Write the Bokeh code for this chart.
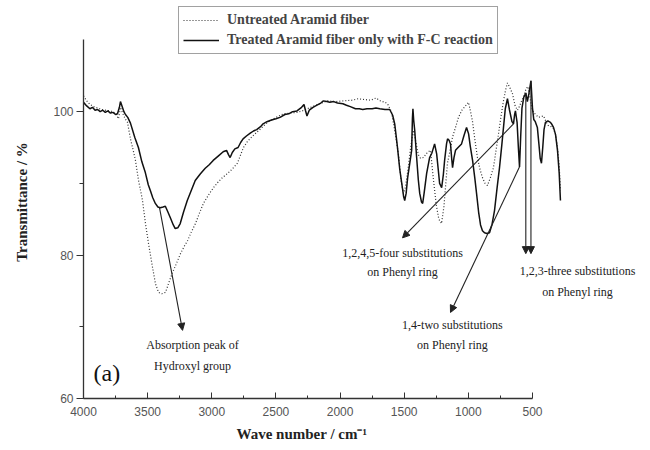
import numpy as np
from bokeh.plotting import figure
from bokeh.models import (Range1d, FixedTicker, Label, Arrow, NormalHead,
                          Legend, LegendItem, Title)
from bokeh.embed import file_html
from bokeh.resources import INLINE

# ---------------- data ----------------
treated_wn = [4000, 3975, 3950, 3930, 3910, 3890, 3870, 3850, 3830, 3810, 3790, 3770, 3750, 3735,
              3720, 3712, 3700, 3685, 3673, 3655, 3634, 3600, 3572, 3545, 3518, 3495, 3479, 3460,
              3440, 3420, 3401, 3380, 3362, 3342, 3323, 3300, 3285, 3265, 3246, 3220, 3191, 3160,
              3129, 3090, 3051, 3020, 2989, 2950, 2911, 2885, 2870, 2857, 2840, 2820, 2795, 2775,
              2756, 2730, 2700, 2675, 2650, 2620, 2600, 2570, 2540, 2500, 2468, 2430, 2400, 2370,
              2336, 2300, 2281, 2270, 2258, 2240, 2211, 2180, 2150, 2130, 2103, 2080, 2050, 2020,
              1978, 1950, 1920, 1880, 1850, 1823, 1790, 1750, 1720, 1690, 1650, 1613, 1590, 1574,
              1560, 1550, 1535, 1519, 1505, 1496, 1485, 1473, 1455, 1442, 1436, 1432, 1426, 1418,
              1403, 1390, 1379, 1365, 1356, 1345, 1325, 1302, 1285, 1278, 1263, 1247, 1235, 1224,
              1208, 1195, 1185, 1170, 1162, 1150, 1139, 1130, 1123, 1112, 1100, 1080, 1053, 1035,
              1014, 998, 985, 967, 950, 936, 920, 905, 890, 874, 855, 835, 815, 796, 775, 757,
              740, 726, 712, 695, 680, 660, 648, 640, 633, 620, 610, 601, 592, 582, 568, 552,
              540, 528, 512, 500, 490, 478, 462, 450, 440, 430, 420, 410, 399, 380, 360, 348,
              336, 320, 305, 292, 282]
treated_t = [101.3, 100.8, 100.4, 100.6, 100.2, 100.3, 100.0, 100.2, 99.9, 100.1, 99.8, 99.9, 99.6, 99.7,
             100.6, 101.4, 100.8, 100.0, 99.6, 99.2, 98.4, 96.4, 95.0, 93.0, 91.5, 89.8, 89.0, 88.0,
             87.2, 86.7, 86.6, 86.7, 86.8, 86.0, 85.2, 84.2, 83.7, 83.8, 84.4, 86.0, 87.6, 89.0,
             90.4, 91.3, 92.1, 92.6, 93.2, 93.8, 94.4, 94.6, 94.0, 93.6, 94.3, 94.8, 95.0, 95.7,
             96.2, 96.6, 97.0, 97.3, 97.5, 97.9, 98.3, 98.6, 98.8, 99.0, 99.2, 99.6, 99.7, 100.0,
             100.1, 100.6, 101.0, 100.2, 99.4, 100.2, 100.6, 100.9, 101.2, 101.5, 101.4, 101.3, 101.4, 101.2,
             101.1, 100.9, 100.7, 100.4, 100.4, 100.3, 100.4, 100.4, 100.5, 100.4, 100.3, 100.3, 99.5, 98.3,
             96.2, 94.6, 92.0, 90.0, 88.2, 87.6, 88.6, 90.8, 93.0, 94.6, 99.0, 100.4, 98.8, 97.4,
             93.6, 90.5, 88.6, 87.4, 87.2, 88.6, 91.4, 93.6, 94.2, 94.6, 95.5, 94.1, 92.0, 90.0,
             89.4, 91.2, 93.2, 95.5, 96.2, 96.0, 95.5, 93.5, 92.2, 93.6, 94.6, 95.0, 95.5, 96.6,
             97.8, 96.9, 95.2, 93.2, 90.8, 88.6, 86.0, 84.2, 83.4, 83.1, 83.0, 83.1, 84.3, 86.2, 89.5, 92.2,
             95.2, 97.8, 100.4, 101.8, 100.3, 98.6, 98.3, 99.5, 100.1, 98.5, 95.0, 92.3, 96.5, 100.5, 102.0, 102.6,
             101.4, 102.5, 104.3, 100.5, 98.9, 98.6, 97.8, 95.5, 93.5, 92.8, 95.0, 97.5, 98.5, 98.7, 98.5, 98.2,
             97.8, 96.8, 94.6, 91.5, 87.6]

untreated_wn = [4000, 3975, 3950, 3920, 3890, 3860, 3830, 3800, 3770, 3745, 3727, 3712, 3695, 3675,
                3657, 3634, 3615, 3595, 3571, 3555, 3540, 3517, 3493, 3462, 3439, 3415, 3390, 3361,
                3345, 3330, 3305, 3283, 3244, 3215, 3189, 3160, 3127, 3095, 3065, 3025, 2987, 2950,
                2917, 2890, 2870, 2840, 2800, 2775, 2753, 2720, 2675, 2620, 2566, 2500, 2441, 2390,
                2332, 2280, 2230, 2160, 2098, 2040, 1973, 1900, 1860, 1817, 1760, 1720, 1685, 1650,
                1630, 1600, 1575, 1545, 1525, 1506, 1490, 1470, 1450, 1428, 1410, 1390, 1373, 1350,
                1320, 1295, 1272, 1250, 1230, 1209, 1190, 1163, 1140, 1124, 1100, 1077, 1050, 1022,
                999, 985, 968, 950, 929, 910, 890, 870, 851, 828, 804, 785, 765, 745, 726, 710,
                695, 675, 656, 635, 617, 600, 585, 570, 550, 535, 520, 505, 492, 470, 453, 435,
                414, 395, 375, 355, 336, 320, 305, 292, 282]
untreated_t = [102.2, 101.5, 101.0, 100.7, 100.5, 100.3, 100.2, 100.1, 100.0, 99.6, 99.0, 100.6, 99.8, 99.0,
               98.5, 96.2, 94.8, 93.2, 90.4, 89.0, 87.6, 84.4, 81.6, 78.3, 76.0, 74.8, 74.6, 74.8,
               75.6, 76.4, 77.6, 78.5, 80.2, 81.2, 82.0, 83.2, 84.4, 85.9, 87.2, 88.4, 89.4, 90.2,
               90.8, 91.2, 91.5, 92.0, 92.8, 94.0, 95.0, 95.9, 96.7, 97.6, 98.5, 99.2, 99.7, 99.8,
               99.9, 100.2, 100.6, 101.1, 101.5, 101.4, 101.5, 101.6, 101.8, 101.7, 101.6, 101.9, 101.5, 101.3,
               101.1, 100.0, 97.5, 94.1, 90.5, 88.6, 89.5, 92.0, 95.0, 97.4, 95.8, 94.0, 93.5, 93.6,
               94.3, 94.6, 90.5, 87.0, 85.0, 84.4, 86.8, 92.8, 94.8, 96.4, 97.8, 99.2, 100.2, 100.8,
               101.3, 100.2, 98.7, 96.2, 93.6, 92.0, 90.8, 90.0, 89.7, 90.8, 92.2, 94.5, 96.9, 99.4, 101.5, 103.0,
               104.0, 103.3, 102.5, 100.8, 100.2, 100.8, 101.5, 102.0, 103.2, 103.5, 102.0, 100.5, 99.9, 99.5, 99.2, 99.3,
               99.4, 98.6, 98.0, 97.9, 97.6, 96.8, 95.0, 92.5, 89.0]

series_labels = ["Untreated Aramid fiber", "Treated Aramid fiber only with F-C reaction"]
x_title = "Wave number / cm\u207b\u00b9"
y_title = "Transmittance / %"

x_ticks = [4000, 3500, 3000, 2500, 2000, 1500, 1000, 500]
x_minor = [3750, 3250, 2750, 2250, 1750, 1250, 750]
y_ticks = [60, 80, 100]
y_minor = [70, 90]

ann_hydroxyl = ["Absorption peak of", "Hydroxyl group"]
ann_four = ["1,2,4,5-four substitutions", "on Phenyl ring"]
ann_two = ["1,4-two substitutions", "on Phenyl ring"]
ann_three = ["1,2,3-three substitutions", "on Phenyl ring"]

# ---------------- figure ----------------
p = figure(width=650, height=450, x_range=Range1d(4000, -420), y_range=Range1d(60, 114.8),
           output_backend="svg", toolbar_location=None,
           min_border_left=83, min_border_right=0, min_border_top=5, min_border_bottom=52,
           y_axis_label=y_title)
p.outline_line_color = None
p.grid.visible = False
p.background_fill_color = "white"

r_un = p.line(untreated_wn, untreated_t, line_color="#333333", line_width=1.2, line_dash="1 2")
r_tr = p.line(treated_wn, treated_t, line_color="#111111", line_width=1.5)

xa = p.xaxis[0]
xa.ticker = FixedTicker(ticks=x_ticks, minor_ticks=x_minor)
xa.bounds = (500, 4000)
xa.major_tick_in = 6
xa.major_tick_out = 0
xa.minor_tick_in = 3
xa.minor_tick_out = 0
xa.major_label_standoff = 8
ya = p.yaxis[0]
ya.ticker = FixedTicker(ticks=y_ticks, minor_ticks=y_minor)
ya.bounds = (60, 110)
ya.major_tick_in = 0
ya.major_tick_out = 7
ya.minor_tick_in = 0
ya.minor_tick_out = 4
ya.major_label_standoff = 3
ya.axis_label_standoff = 20
for ax in (xa, ya):
    ax.axis_line_color = "#333333"
    ax.axis_line_width = 1.3
    ax.major_tick_line_color = "#333333"
    ax.minor_tick_line_color = "#333333"
    ax.major_label_text_font = "Liberation Sans"
    ax.major_label_text_font_size = "12px"
    ax.major_label_text_color = "#555555"
    ax.axis_label_text_font = "Liberation Serif"
    ax.axis_label_text_font_style = "bold"
    ax.axis_label_text_font_size = "15px"
    ax.axis_label_text_color = "#222222"

# x-axis title, centred under the drawn part of the axis
xt = Title(text=x_title, align="left", offset=153, standoff=10,
           text_font="Liberation Serif", text_font_style="bold", text_font_size="15px",
           text_color="#222222")
p.add_layout(xt, "below")

legend = Legend(items=[LegendItem(label=series_labels[0], renderers=[r_un]),
                       LegendItem(label=series_labels[1], renderers=[r_tr])],
                location=(95, 344))
legend.label_text_font = "Liberation Serif"
legend.label_text_font_style = "bold"
legend.label_text_font_size = "14px"
legend.glyph_width = 36
legend.glyph_height = 18
legend.label_height = 18
legend.label_standoff = 8
legend.padding = 4
legend.spacing = 2
legend.margin = 0
legend.border_line_color = "#444444"
legend.border_line_width = 1.5
legend.background_fill_alpha = 1.0
p.add_layout(legend)

tr_x = np.array(treated_wn[::-1], dtype=float)
tr_y = np.array(treated_t[::-1], dtype=float)


def on_curve(x):
    return float(np.interp(x, tr_x, tr_y))


def arrow(x0, y0, x1, y1):
    p.add_layout(Arrow(x_start=x0, y_start=y0, x_end=x1, y_end=y1,
                       line_color="#222222", line_width=1.1,
                       end=NormalHead(size=7, fill_color="#222222", line_color="#222222")))


def text2(lines, x, y1, y2):
    for t, y in zip(lines, (y1, y2)):
        p.add_layout(Label(x=x, y=y, text=t, text_font="Liberation Serif", text_font_size="12px",
                           text_align="center", text_baseline="middle", text_color="#222222"))


arrow(3408, on_curve(3408), 3228, 69.5)
text2(ann_hydroxyl, 3150, 67.4, 64.6)
arrow(648, on_curve(648), 1513, 82.4)
text2(ann_four, 1513, 80.3, 77.6)
arrow(601, on_curve(601), 1139, 72.0)
text2(ann_two, 1124, 70.2, 67.4)
arrow(552, on_curve(552), 552, 80.2)
arrow(512, on_curve(512), 512, 80.2)
text2(ann_three, 149, 77.8, 74.9)

p.add_layout(Label(x=3922, y=63.6, text="(a)", text_font="Liberation Serif", text_font_size="24px",
                   text_align="left", text_baseline="middle", text_color="#111111"))

open("out.html", "w").write(file_html(p, INLINE))
